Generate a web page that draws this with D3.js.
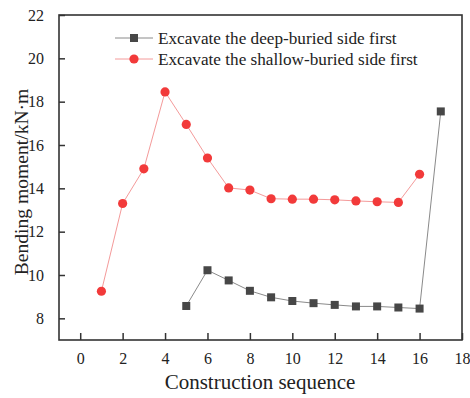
<!DOCTYPE html>
<html>
<head>
<meta charset="utf-8">
<script src="https://cdn.jsdelivr.net/npm/d3@7"></script>
<style>
  body { margin: 0; background: #fff; }
  text { font-family: "Liberation Serif", "Times New Roman", serif; fill: #222; }
</style>
</head>
<body>
<script>
// data
const deepX = [5, 6, 7, 8, 9, 10, 11, 12, 13, 14, 15, 16, 17];
const deepY = [8.57, 10.22, 9.75, 9.27, 8.97, 8.8, 8.7, 8.62, 8.55, 8.55, 8.5, 8.45, 17.55];
const shallowX = [1, 2, 3, 4, 5, 6, 7, 8, 9, 10, 11, 12, 13, 14, 15, 16];
const shallowY = [9.25, 13.3, 14.9, 18.45, 16.95, 15.4, 14.02, 13.92, 13.52, 13.5, 13.5, 13.47, 13.42, 13.38, 13.35, 14.65];
const xTicks = [0, 2, 4, 6, 8, 10, 12, 14, 16, 18];
const yTicks = [8, 10, 12, 14, 16, 18, 20, 22];
const names = ['Excavate the deep-buried side first', 'Excavate the shallow-buried side first'];

let width = 470, height = 398;
let margin = {top: 15, right: 8, bottom: 58, left: 59};

let svg = d3.select('body').append('svg').attr('width', width).attr('height', height);

let x = d3.scaleLinear().domain([-1, 18]).range([margin.left, width - margin.right]);
let y = d3.scaleLinear().domain([7, 22]).range([height - margin.bottom, margin.top]);

// axes, ticks pointing inward
svg.append('g')
  .attr('transform', `translate(0,${height - margin.bottom})`)
  .call(d3.axisBottom(x).tickValues(xTicks).tickSizeInner(-7).tickSizeOuter(0).tickPadding(13))
  .call(g => g.select('.domain').remove())
  .call(g => g.selectAll('line').attr('stroke', '#333').attr('stroke-width', 1.5))
  .call(g => g.selectAll('text').attr('font-size', 16).style('font-family', '"Liberation Serif", serif').attr('fill', '#222'));

svg.append('g')
  .attr('transform', `translate(${margin.left},0)`)
  .call(d3.axisLeft(y).tickValues(yTicks).tickSizeInner(-6).tickSizeOuter(0).tickPadding(15))
  .call(g => g.select('.domain').remove())
  .call(g => g.selectAll('line').attr('stroke', '#333').attr('stroke-width', 1.5))
  .call(g => g.selectAll('text').attr('font-size', 16).style('font-family', '"Liberation Serif", serif').attr('fill', '#222'));

// frame
svg.append('rect')
  .attr('x', margin.left).attr('y', margin.top)
  .attr('width', width - margin.left - margin.right)
  .attr('height', height - margin.top - margin.bottom)
  .attr('fill', 'none').attr('stroke', '#333').attr('stroke-width', 1.6);

let line = d3.line().x(d => x(d[0])).y(d => y(d[1]));

let deep = deepX.map((v, i) => [v, deepY[i]]);
let shallow = shallowX.map((v, i) => [v, shallowY[i]]);

svg.append('path').datum(shallow).attr('d', line)
  .attr('fill', 'none').attr('stroke', '#f49a9a').attr('stroke-width', 1);
svg.append('path').datum(deep).attr('d', line)
  .attr('fill', 'none').attr('stroke', '#8a8a8a').attr('stroke-width', 1);

svg.append('g').selectAll('circle').data(shallow).enter()
  .append('circle')
    .attr('cx', d => x(d[0])).attr('cy', d => y(d[1]))
    .attr('r', 4.6).attr('fill', '#f23a3a');

svg.append('g').selectAll('rect').data(deep).enter()
  .append('rect')
    .attr('x', d => x(d[0]) - 4).attr('y', d => y(d[1]) - 4)
    .attr('width', 8).attr('height', 8).attr('fill', '#474747');

// legend
let leg = svg.append('g');
[0, 1].forEach(i => {
  let ly = 38 + i * 21;
  leg.append('line').attr('x1', 115).attr('x2', 153).attr('y1', ly).attr('y2', ly)
    .attr('stroke', i == 0 ? '#8a8a8a' : '#f49a9a').attr('stroke-width', 1);
  if (i == 0) {
    leg.append('rect').attr('x', 130).attr('y', ly - 4).attr('width', 8).attr('height', 8).attr('fill', '#474747');
  } else {
    leg.append('circle').attr('cx', 134).attr('cy', ly).attr('r', 4.6).attr('fill', '#f23a3a');
  }
  leg.append('text').attr('x', 158).attr('y', ly + 5.5).attr('font-size', 17.2).text(names[i]);
});

// axis titles
svg.append('text')
  .attr('x', 260).attr('y', 389)
  .attr('text-anchor', 'middle').attr('font-size', 21)
  .text('Construction sequence');

svg.append('text')
  .attr('transform', `translate(28,182) rotate(-90)`)
  .attr('text-anchor', 'middle').attr('font-size', 19.6)
  .text('Bending moment/kN·m');
</script>
</body>
</html>
